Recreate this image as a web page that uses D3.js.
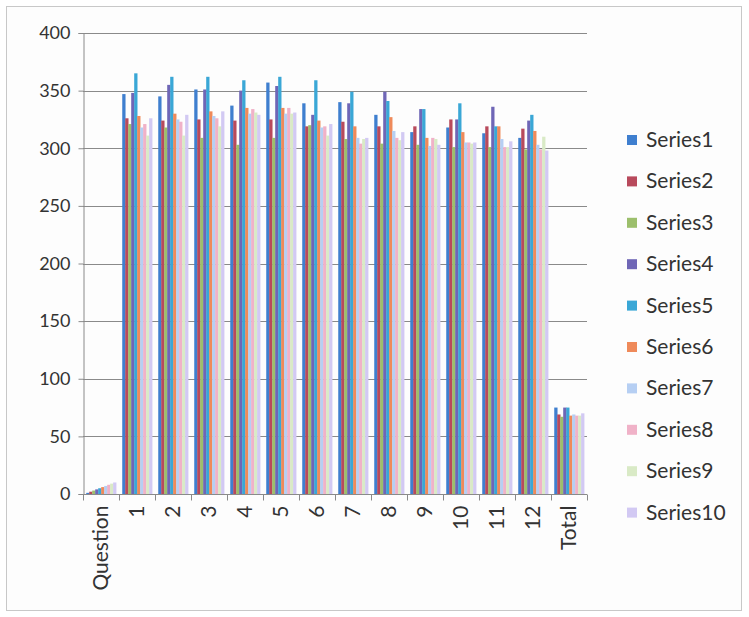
<!DOCTYPE html>
<html><head><meta charset="utf-8">
<script src="https://cdn.jsdelivr.net/npm/d3@7"></script>
<style>body{margin:0;background:#fff;} text{font-family:Lato,"Open Sans","Liberation Sans",sans-serif;fill:#333;}</style>
</head><body>
<svg id="c" width="749" height="617"></svg>
<script>
const categories = ["Question","1","2","3","4","5","6","7","8","9","10","11","12","Total"];
const seriesNames = ["Series1","Series2","Series3","Series4","Series5","Series6","Series7","Series8","Series9","Series10"];
const colors = ["#3f7fcf","#b84a5c","#9cbf6c","#6f66b6","#3aa7d6","#ef8a5a","#b6cff3","#f0b2c8","#d9eac6","#d2c9f3"];
const series1 = [1,347,345,351,337,357,339,340,329,314,318,313,309,75];
const series2 = [2,326,324,325,324,325,319,323,319,319,325,319,317,69];
const series3 = [3,321,318,309,303,309,320,308,304,303,301,301,299,67];
const series4 = [4,348,355,351,350,354,329,339,349,334,325,336,324,75];
const series5 = [5,365,362,362,359,362,359,349,341,334,339,319,329,75];
const series6 = [6,328,330,332,335,335,324,319,327,309,314,319,315,68];
const series7 = [7,318,325,328,330,330,318,309,315,302,305,308,303,69];
const series8 = [8,321,323,326,334,335,319,304,309,309,305,301,299,68];
const series9 = [9,311,311,319,331,330,311,308,307,308,304,301,310,68];
const series10 = [10,326,329,332,329,331,321,309,314,303,305,306,298,70];
const yTicks = [0,50,100,150,200,250,300,350,400];
const allSeries = [series1,series2,series3,series4,series5,series6,series7,series8,series9,series10];

const svg = d3.select("#c");
svg.append("rect").attr("x",6.5).attr("y",6.5).attr("width",735).attr("height",604)
  .attr("fill","#fdfdfd").attr("stroke","#c8c8c8");

const m = {l:83, r:162, t:33, b:123};
const W = 749, H = 617;
const x0 = d3.scaleBand().domain(categories).range([m.l, W-m.r]).paddingInner(0).paddingOuter(0);
const bw = x0.bandwidth();
const x1 = d3.scaleBand().domain(d3.range(10)).range([bw*0.09, bw*0.92]);
const y = d3.scaleLinear().domain([0,400]).range([H-m.b, m.t]);

svg.append("g").selectAll("line").data(yTicks).join("line")
  .attr("x1",m.l).attr("x2",W-m.r).attr("y1",d=>Math.round(y(d))+0.5).attr("y2",d=>Math.round(y(d))+0.5)
  .attr("stroke","#8a8a8a").attr("stroke-width",1);

const g = svg.append("g");
categories.forEach((c,ci)=>{
  allSeries.forEach((s,si)=>{
    g.append("rect").attr("x",x0(c)+x1(si)).attr("width",x1.bandwidth()+0.3)
      .attr("y",y(s[ci])).attr("height",y(0)-y(s[ci])).attr("fill",colors[si]);
  });
});

const ya = d3.axisLeft(y).tickValues(yTicks).tickSize(5).tickPadding(8);
const yg = svg.append("g").attr("transform",`translate(${m.l+0.5},0)`).call(ya);
yg.select(".domain").attr("stroke","#8a8a8a");
yg.selectAll(".tick line").attr("stroke","#8a8a8a");
yg.selectAll(".tick text").attr("font-size",18).attr("fill","#333").style("font-family","Lato");

const xg = svg.append("g").attr("transform",`translate(0,${Math.round(y(0))+0.5})`);
xg.append("line").attr("x1",m.l).attr("x2",W-m.r).attr("stroke","#8a8a8a");
const bounds = categories.map(c=>x0(c)).concat([x0(categories[categories.length-1])+bw]);
xg.selectAll("line.tk").data(bounds).join("line").attr("class","tk")
  .attr("x1",d=>Math.round(d)+0.5).attr("x2",d=>Math.round(d)+0.5).attr("y1",0).attr("y2",6).attr("stroke","#8a8a8a");
xg.selectAll("text").data(categories).join("text")
  .attr("transform",d=>`translate(${x0(d)+bw/2+7},11) rotate(-90)`)
  .attr("text-anchor","end").attr("font-size",21).text(d=>d);

const lg = svg.append("g");
seriesNames.forEach((n,i)=>{
  const yy = 140 + i*41.4;
  lg.append("rect").attr("x",627).attr("y",yy-5).attr("width",10).attr("height",10).attr("fill",colors[i]);
  lg.append("text").attr("x",646).attr("y",yy+7).attr("font-size",21).text(n);
});
</script>
</body></html>
